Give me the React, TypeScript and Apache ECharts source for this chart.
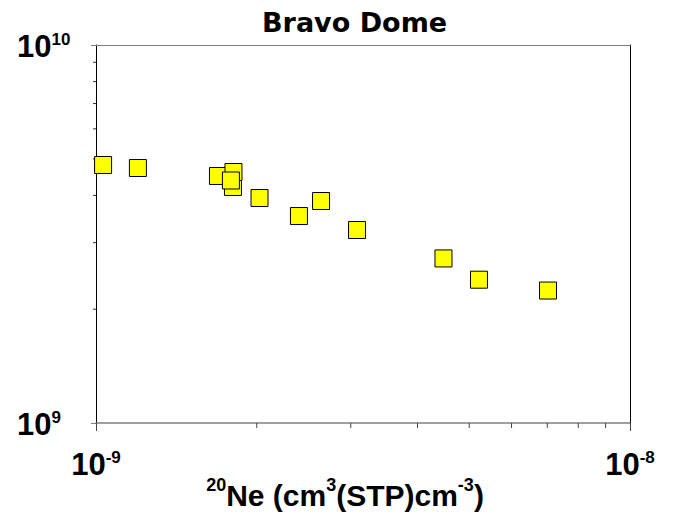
import React, { useEffect, useRef } from "react";
import * as echarts from "echarts";

// 20Ne concentration (cm3 STP / cm3)
const neon: number[] = [
  1.031e-9, 1.198e-9, 1.692e-9, 1.805e-9, 1.809e-9, 1.789e-9, 2.024e-9,
  2.399e-9, 2.639e-9, 3.082e-9, 4.474e-9, 5.214e-9, 7.022e-9,
];
// ratio values (y)
const ratio: number[] = [
  4.814e9, 4.727e9, 4.503e9, 4.211e9, 4.613e9, 4.381e9, 3.937e9,
  3.528e9, 3.866e9, 3.24e9, 2.725e9, 2.394e9, 2.241e9,
];
const xMinorTicks: number[] = [2e-9, 3e-9, 4e-9, 5e-9, 6e-9, 7e-9, 8e-9, 9e-9];
const yMinorTicks: number[] = [2e9, 3e9, 4e9, 5e9, 6e9, 7e9, 8e9, 9e9];
const xRange: number[] = [1e-9, 1e-8];
const yRange: number[] = [1e9, 1e10];
const titleText = "Bravo Dome";

const FONT = "Liberation Sans";

const expLabel = (v: number) => {
  const e = Math.round(Math.log10(v));
  return `{b|10}{s|${e}}`;
};

const labelRich = {
  b: { fontSize: 31, fontWeight: "bold", fontFamily: FONT, color: "#000", lineHeight: 31 },
  s: { fontSize: 17, fontWeight: "bold", fontFamily: FONT, color: "#000", lineHeight: 18, verticalAlign: "top" },
};

export default function App() {
  const ref = useRef<HTMLDivElement>(null);
  useEffect(() => {
    if (!ref.current) return;
    const chart = echarts.init(ref.current, null, { renderer: "svg" });
    const tickData = [
      ...xMinorTicks.map((v) => [v, yRange[0], 0]),
      ...yMinorTicks.map((v) => [xRange[0], v, 1]),
    ];
    chart.setOption({
      animation: false,
      backgroundColor: "#fff",
      textStyle: { fontFamily: FONT },
      title: {
        text: titleText,
        left: 262,
        top: 9,
        padding: 0,
        textStyle: {
          fontFamily: "DejaVu Sans",
          fontWeight: "bold",
          fontSize: 27,
          lineHeight: 27,
          color: "#000",
        },
      },
      grid: {
        left: 96,
        top: 45,
        width: 534,
        height: 378,
        containLabel: false,
        outerBoundsMode: "none",
      },
      xAxis: [
        {
          type: "log",
          logBase: 10,
          min: xRange[0],
          max: xRange[1],
          position: "bottom",
          axisLine: { show: true, lineStyle: { color: "#808080", width: 1.5 } },
          axisTick: { show: true, length: 8, lineStyle: { color: "#444" } },
          splitLine: { show: false },
          minorTick: { show: false },
          axisLabel: {
            margin: 26,
            fontFamily: FONT,
            formatter: expLabel,
            rich: labelRich,
            showMinLabel: true,
            showMaxLabel: true,
          },
          name: "{s|20}{b|Ne (cm}{s|3}{b|(STP)cm}{s|-3}{b|)}",
          nameLocation: "middle",
          nameGap: 53,
          nameMoveOverlap: false,
          nameTextStyle: {
            fontFamily: FONT,
            padding: [0, 36, 0, 0],
            rich: {
              b: { fontSize: 30, fontWeight: "bold", fontFamily: FONT, color: "#000", lineHeight: 38 },
              s: { fontSize: 18, fontWeight: "bold", fontFamily: FONT, color: "#000", lineHeight: 18, verticalAlign: "top" },
            },
          },
        },
        {
          type: "log",
          logBase: 10,
          min: xRange[0],
          max: xRange[1],
          position: "top",
          axisLine: { show: true, lineStyle: { color: "#808080", width: 1 } },
          axisTick: { show: false },
          axisLabel: { show: false },
          splitLine: { show: false },
        },
      ],
      yAxis: [
        {
          type: "log",
          logBase: 10,
          min: yRange[0],
          max: yRange[1],
          position: "left",
          axisLine: { show: true, lineStyle: { color: "#000", width: 1 } },
          axisTick: { show: true, length: 5, lineStyle: { color: "#808080" } },
          splitLine: { show: false },
          axisLabel: {
            margin: 79,
            align: "left",
            verticalAlign: "middle",
            fontFamily: FONT,
            formatter: expLabel,
            rich: labelRich,
            padding: [3, 0, 0, 0],
            showMinLabel: true,
            showMaxLabel: true,
          },
        },
        {
          type: "log",
          logBase: 10,
          min: yRange[0],
          max: yRange[1],
          position: "right",
          axisLine: { show: true, lineStyle: { color: "#000", width: 1 } },
          axisTick: { show: false },
          axisLabel: { show: false },
          splitLine: { show: false },
        },
      ],
      series: [
        {
          type: "custom",
          silent: true,
          clip: false,
          z: 1,
          data: tickData,
          renderItem: (params: any, api: any) => {
            const p = api.coord([api.value(0), api.value(1)]);
            const kind = api.value(2);
            if (kind === 0) {
              return {
                type: "line",
                shape: { x1: p[0], y1: p[1], x2: p[0], y2: p[1] + 5 },
                style: { stroke: "#444", lineWidth: 1 },
              };
            }
            return {
              type: "line",
              shape: { x1: p[0] - 3, y1: p[1], x2: p[0], y2: p[1] },
              style: { stroke: "#333", lineWidth: 1 },
            };
          },
        },
        {
          type: "scatter",
          symbol: "rect",
          symbolSize: 17,
          z: 3,
          data: neon.map((x, i) => [x, ratio[i]]),
          itemStyle: { color: "#FFFF00", borderColor: "#000", borderWidth: 1, opacity: 1 },
        },
      ],
    });
    return () => chart.dispose();
  }, []);
  return (
    <div
      ref={ref}
      style={{ position: "fixed", left: 0, top: 0, width: 677, height: 518 }}
    />
  );
}
